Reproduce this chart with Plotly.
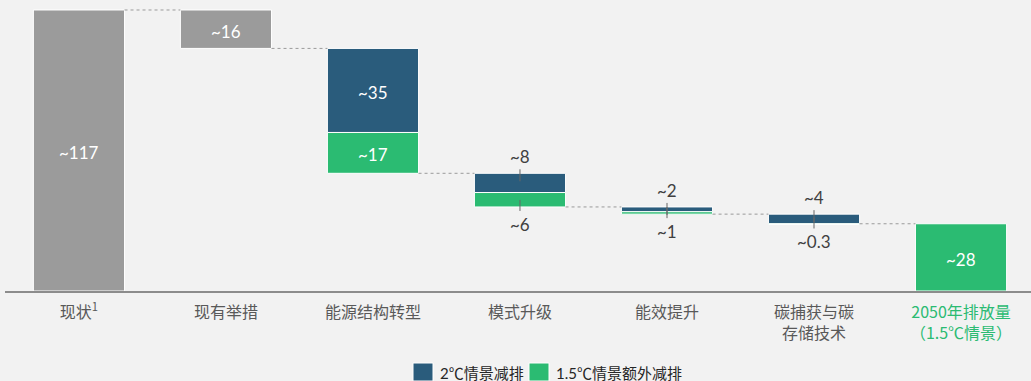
import plotly.graph_objects as go

# ---------------- data ----------------
categories = ["现状<sup>1</sup>", "现有举措", "能源结构转型", "模式升级", "能效提升",
              "碳捕获与碳<br>存储技术",
              "<span style='color:#2BBB72'>2050年排放量<br>（1.5℃情景）</span>"]
current_value = 117
existing_measures = 16
cut_2c = [35, 8, 2, 4]          # 2℃情景减排
cut_15c = [17, 6, 1, 0.3]       # 1.5℃情景额外减排
final_2050 = 28
labels_gray = ["~117", "~16"]
labels_2c = ["~35", "~8", "~2", "~4"]
labels_15c = ["~17", "~6", "~1", "~0.3"]
label_final = "~28"
legend_names = ["2℃情景减排", "1.5℃情景额外减排"]

# ---------------- styles ----------------
GRAY = "#9B9B9B"
BLUE = "#2A5C7C"
GREEN = "#2BBB72"
BG = "#F2F2F2"
W = 0.62
NUMFONT = "Lato, 'Noto Sans CJK SC', sans-serif"
CJKFONT = "'Noto Sans CJK SC', sans-serif"

xs = list(range(len(categories)))

# running levels
level = current_value
gray_base = [0, current_value - existing_measures]
gray_val = [current_value, existing_measures]
level -= existing_measures
after_levels = [current_value, level]
blue_base, green_base = [], []
for b, g in zip(cut_2c, cut_15c):
    blue_base.append(level - b)
    level -= b
    green_base.append(level - g)
    level -= g
    after_levels.append(level)

fig = go.Figure()
fig.add_bar(x=xs[:2], y=gray_val, base=gray_base, width=W,
            marker=dict(color=GRAY, line=dict(color="white", width=1)),
            showlegend=False, hoverinfo="skip")
fig.add_bar(x=xs[2:6], y=cut_2c, base=blue_base, width=W, name=legend_names[0],
            marker=dict(color=BLUE, line=dict(color="white", width=1)),
            showlegend=False, hoverinfo="skip")
fig.add_bar(x=xs[2:7], y=cut_15c + [final_2050], base=green_base + [0], width=W,
            name=legend_names[1], showlegend=False,
            marker=dict(color=GREEN, line=dict(color="white", width=1)), hoverinfo="skip")

annotations = []
shapes = []


def inside(x, yc, t):
    annotations.append(dict(x=x, y=yc, yshift=-2, text=t, showarrow=False,
                            font=dict(family=NUMFONT, size=17, color="white")))


inside(0, current_value * 0.5, labels_gray[0])
inside(1, gray_base[1] + existing_measures / 2, labels_gray[1])
inside(6, final_2050 / 2, label_final)
for i, (b, g) in enumerate(zip(cut_2c, cut_15c)):
    x = xs[2 + i]
    top = blue_base[i] + b
    if b >= 10:
        inside(x, blue_base[i] + b / 2, labels_2c[i])
        inside(x, green_base[i] + g / 2, labels_15c[i])
    else:
        annotations.append(dict(x=x, y=top, yanchor="bottom", yshift=4, text=labels_2c[i],
                                showarrow=False,
                                font=dict(family=NUMFONT, size=17, color="#404040")))
        annotations.append(dict(x=x, y=green_base[i], yanchor="top", yshift=-5,
                                text=labels_15c[i], showarrow=False,
                                font=dict(family=NUMFONT, size=17, color="#404040")))
        shapes.append(dict(type="line", xref="x", yref="y", ysizemode="pixel",
                           yanchor=top, x0=x, x1=x, y0=4, y1=-8,
                           line=dict(color="#666666", width=1)))
        shapes.append(dict(type="line", xref="x", yref="y", ysizemode="pixel",
                           yanchor=green_base[i], x0=x, x1=x, y0=-4, y1=7,
                           line=dict(color="#666666", width=1)))

# connectors
conn_levels = after_levels[:-1] + [final_2050]
for i, lv in enumerate(conn_levels):
    shapes.append(dict(type="line", xref="x", yref="y",
                       x0=xs[i] + W / 2, x1=xs[i + 1] - W / 2, y0=lv, y1=lv,
                       line=dict(color="#9A9A9A", width=1, dash="3px,3px")))

# custom legend (paper coordinates)
def px_x(p):
    return (p - 5) / 1026


def px_y(p):
    return (291 - p) / 291


for (x0, name, col) in [(413, legend_names[0], BLUE), (529, legend_names[1], GREEN)]:
    shapes.append(dict(type="rect", xref="paper", yref="paper",
                       x0=px_x(x0), x1=px_x(x0 + 20), y0=px_y(363), y1=px_y(381),
                       fillcolor=col, line=dict(color="white", width=1)))
    annotations.append(dict(xref="paper", yref="paper", x=px_x(x0 + 25), y=px_y(373),
                            xanchor="left", yanchor="middle", text=name, showarrow=False,
                            font=dict(family=NUMFONT, size=15, color="#262626")))

fig.update_layout(
    width=1031, height=381,
    margin=dict(l=5, r=0, t=0, b=90),
    paper_bgcolor=BG, plot_bgcolor=BG,
    barmode="overlay",
    annotations=annotations, shapes=shapes,
    showlegend=False,
    font=dict(family=CJKFONT),
)
fig.update_xaxes(range=[-0.503, 6.476], tickmode="array", tickvals=xs, ticktext=categories,
                 showgrid=False, zeroline=False, showline=True, linecolor="#8C8C8C",
                 linewidth=1.5, ticks="", ticklabelstandoff=6,
                 tickfont=dict(family=CJKFONT, size=16, color="#595959"))
fig.update_yaxes(range=[0, 121.16], visible=False, showgrid=False, zeroline=False)

fig.write_html("out.html")
